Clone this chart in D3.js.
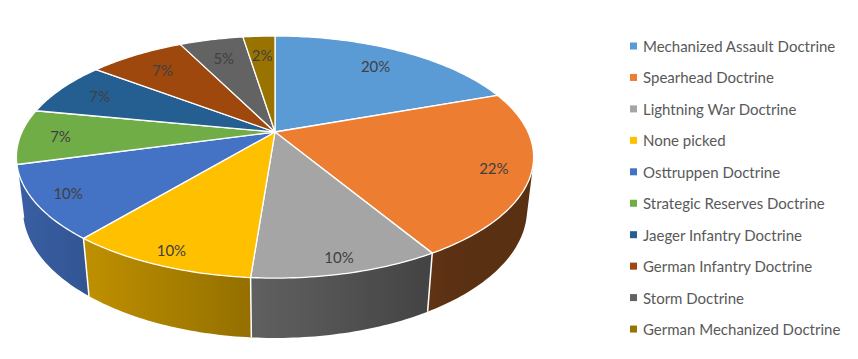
<!DOCTYPE html>
<html>
<head>
<meta charset="utf-8">
<script src="https://cdn.jsdelivr.net/npm/d3@7"></script>
<style>
  body { margin: 0; background: #fff; }
  svg { display: block; }
  text { font-family: Lato, "Open Sans", sans-serif; }
</style>
</head>
<body>
<div id="chart"></div>
<script>
// doctrine picks (counts) - percentages are derived from these
const categories = ["Mechanized Assault Doctrine", "Spearhead Doctrine", "Lightning War Doctrine",
                    "None picked", "Osttruppen Doctrine", "Strategic Reserves Doctrine",
                    "Jaeger Infantry Doctrine", "German Infantry Doctrine", "Storm Doctrine",
                    "German Mechanized Doctrine"];
const counts = [8, 9, 4, 4, 4, 3, 3, 3, 2, 1];
const colors = ["#5B9BD5", "#ED7D31", "#A5A5A5", "#FFC000", "#4472C4",
                "#70AD47", "#255E91", "#9E480E", "#636363", "#997300"];

const WIDTH = 858, HEIGHT = 359;

// 3d view constants (perspective camera looking down at the disc)
const CX = 275, CY = 132;      // pie vertex on screen
const TILT = Math.asin(0.458);
const S = Math.sin(TILT), C = Math.cos(TILT);
const DIST = 4.30;             // camera distance in disc radii
const FOCAL = 1088;
const THICK = 0.234;           // slab height in disc radii

function proj(theta, r, y) {
  const x = r * Math.sin(theta), z = -r * Math.cos(theta);
  const d = DIST - y * S - z * C;
  return [CX + FOCAL * x / d, CY - FOCAL * (y * C - z * S) / d];
}

const svg = d3.select("#chart").append("svg")
  .attr("width", WIDTH).attr("height", HEIGHT);
const defs = svg.append("defs");

const total = d3.sum(counts);
const arcs = d3.pie().sort(null).startAngle(0).endAngle(2 * Math.PI)(counts);

const STEP = Math.PI / 180;
function arcPoints(a0, a1, r, y) {
  const n = Math.max(2, Math.ceil((a1 - a0) / STEP));
  return d3.range(n + 1).map(i => proj(a0 + (a1 - a0) * i / n, r, y));
}

// visible part of the outer wall
const visZ = 1 / (DIST * C);
const vis0 = Math.acos(-visZ), vis1 = 2 * Math.PI - vis0;

function shade(col, theta) {
  const k = Math.max(0.38, 0.56 - 0.30 * Math.sin(theta));
  const c = d3.rgb(col);
  return d3.rgb(c.r * k, c.g * k, c.b * k).formatHex();
}

const sides = svg.append("g");
arcs.forEach((a, i) => {
  const s0 = Math.max(a.startAngle, vis0), s1 = Math.min(a.endAngle, vis1);
  if (s1 <= s0) return;
  const xa = proj(s0, 1, 0)[0], xb = proj(s1, 1, 0)[0];
  const grad = defs.append("linearGradient")
    .attr("id", "side" + i)
    .attr("gradientUnits", "userSpaceOnUse")
    .attr("x1", xa).attr("y1", 0).attr("x2", xb).attr("y2", 0);
  d3.range(9).forEach(j => {
    const t = s0 + (s1 - s0) * j / 8;
    const off = (proj(t, 1, 0)[0] - xa) / (xb - xa || 1);
    grad.append("stop").attr("offset", Math.max(0, Math.min(1, off)))
      .attr("stop-color", shade(colors[i], t));
  });
  const pts = arcPoints(s0, s1, 1, 0).concat(arcPoints(s0, s1, 1, -THICK).reverse());
  sides.append("path")
    .attr("d", d3.line()(pts) + "Z")
    .attr("fill", "url(#side" + i + ")");
});

// white seams on the wall
arcs.forEach(a => {
  const t = a.startAngle;
  if (t > vis0 && t < vis1) {
    const p0 = proj(t, 1, 0), p1 = proj(t, 1, -THICK);
    sides.append("line")
      .attr("x1", p0[0]).attr("y1", p0[1]).attr("x2", p1[0]).attr("y2", p1[1])
      .attr("stroke", "#fff").attr("stroke-width", 1.5);
  }
});

// top faces
svg.append("g").selectAll("path")
  .data(arcs)
  .enter()
  .append("path")
    .attr("d", d => {
      const pts = [proj(0, 0, 0)].concat(arcPoints(d.startAngle, d.endAngle, 1, 0));
      return d3.line()(pts) + "Z";
    })
    .attr("fill", (d, i) => colors[i])
    .attr("stroke", "#fff")
    .attr("stroke-width", 1.3)
    .attr("stroke-linejoin", "round");

// percentage labels
svg.append("g").selectAll("text")
  .data(arcs)
  .enter()
  .append("text")
    .attr("transform", d => {
      const mid = (d.startAngle + d.endAngle) / 2;
      const f = 0.84 - 0.07 * Math.cos(mid);
      const p = proj(mid, f, 0);
      return "translate(" + p[0] + "," + p[1] + ")";
    })
    .attr("text-anchor", "middle")
    .attr("dominant-baseline", "central")
    .attr("font-size", 15)
    .attr("fill", "#404040")
    .text(d => Math.round(d.value / total * 100) + "%");

// legend
const LEG_X = 630, LEG_Y = 46, LEG_GAP = 31.45;
const legend = svg.append("g").selectAll("g")
  .data(categories)
  .enter()
  .append("g")
    .attr("transform", (d, i) => "translate(" + LEG_X + "," + (LEG_Y + i * LEG_GAP) + ")");

legend.append("rect")
  .attr("x", 0).attr("y", -3.5)
  .attr("width", 7).attr("height", 7)
  .attr("fill", (d, i) => colors[i]);

legend.append("text")
  .attr("x", 13).attr("y", 0)
  .attr("dominant-baseline", "central")
  .attr("font-size", 15)
  .attr("fill", "#595959")
  .text(d => d);
</script>
</body>
</html>
